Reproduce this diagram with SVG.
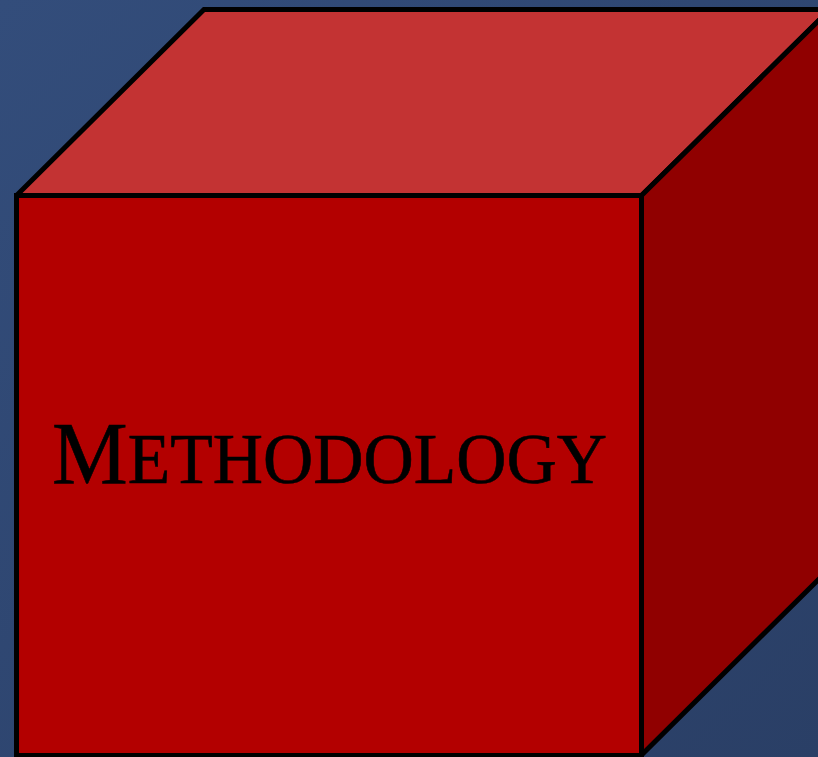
<svg xmlns="http://www.w3.org/2000/svg" width="818" height="757" viewBox="0 0 818 757">
<defs>
<linearGradient id="bg" x1="0" y1="0" x2="1" y2="1">
<stop offset="0" stop-color="#334D7B"/>
<stop offset="1" stop-color="#2A3F66"/>
</linearGradient>
<style>
.edge{stroke:#000;stroke-width:5;stroke-linejoin:miter;stroke-miterlimit:2}
.lbl{font-family:"Liberation Serif","Times New Roman",serif;fill:#000;stroke:#000;stroke-width:0.6}
</style>
</defs>
<rect width="818" height="757" fill="url(#bg)"/>
<g id="cube">
<polygon class="edge" fill="#C33333" points="16.5,195.5 204,9.5 830,9.5 641.5,195.5"/>
<polygon class="edge" fill="#900000" points="641.5,195.5 830,9.5 830,568 641.5,755"/>
<rect class="edge" fill="#B30000" x="16.5" y="195.5" width="625" height="560"/>
<text class="lbl" x="52" y="483" textLength="555" lengthAdjust="spacingAndGlyphs"><tspan font-size="88">M</tspan><tspan font-size="72">ETHODOLOGY</tspan></text>
</g>
</svg>
